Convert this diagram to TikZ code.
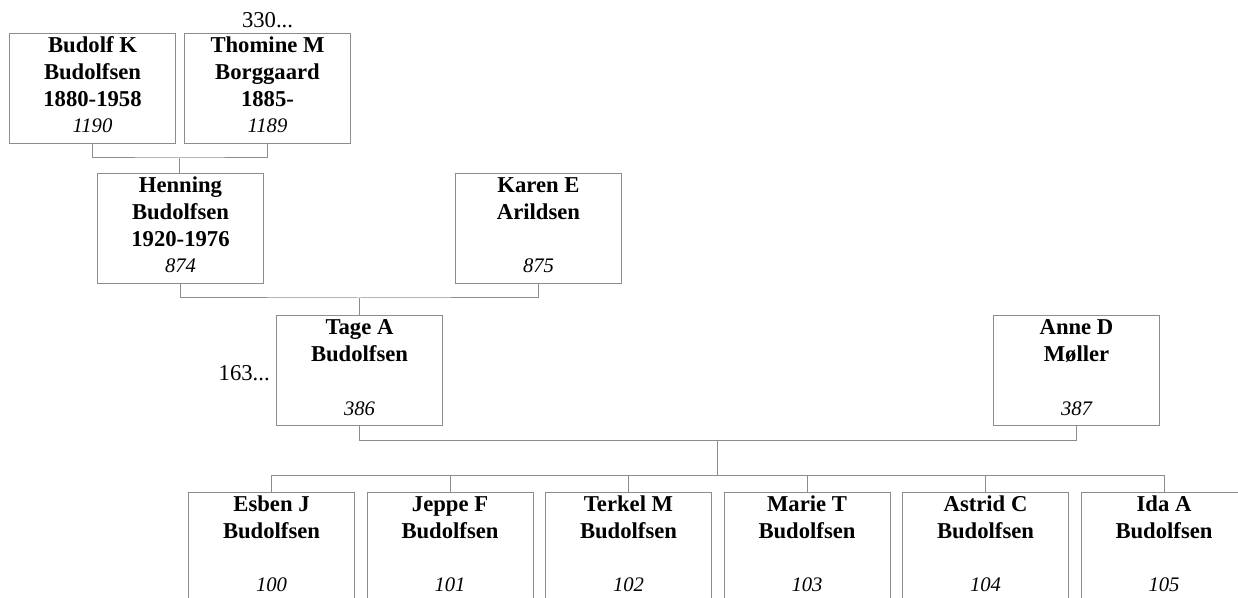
\documentclass[tikz,border=0pt]{standalone}
\usepackage{fontspec}
\setmainfont{Liberation Serif}
\begin{document}
\begin{tikzpicture}[x=0.75pt,y=-0.75pt,
  pbox/.style={draw=black!45,line width=0.75pt,rectangle,inner sep=0pt,minimum width=124.5pt,minimum height=82.5pt,anchor=north west},
  nm/.style={anchor=base,inner sep=0pt,font=\bfseries\fontsize{17}{20}\selectfont},
  num/.style={anchor=base,inner sep=0pt,font=\itshape\fontsize{15.5}{18}\selectfont},
  plain/.style={inner sep=0pt,font=\fontsize{17}{20}\selectfont},
  conn/.style={draw=black!45,line width=0.75pt}]
\useasboundingbox (0,0) rectangle (1238,598);
% generation 1
\node[pbox] (b1) at (9,33) {};
\node[nm] at ([yshift=-15pt]b1.north) {Budolf K};
\node[nm] at ([yshift=-35pt]b1.north) {Budolfsen};
\node[nm] at ([yshift=-55pt]b1.north) {1880-1958};
\node[num] at ([yshift=-75pt]b1.north) {1190};
\node[pbox] (b2) at (184,33) {};
\node[nm] at ([yshift=-15pt]b2.north) {Thomine M};
\node[nm] at ([yshift=-35pt]b2.north) {Borggaard};
\node[nm] at ([yshift=-55pt]b2.north) {1885-};
\node[num] at ([yshift=-75pt]b2.north) {1189};
\node[plain,anchor=base] (m330) at ([yshift=3.75pt]b2.north) {330...};
% generation 2
\node[pbox] (h) at (97,173) {};
\node[nm] at ([yshift=-15pt]h.north) {Henning};
\node[nm] at ([yshift=-35pt]h.north) {Budolfsen};
\node[nm] at ([yshift=-55pt]h.north) {1920-1976};
\node[num] at ([yshift=-75pt]h.north) {874};
\node[pbox] (k) at (455,173) {};
\node[nm] at ([yshift=-15pt]k.north) {Karen E};
\node[nm] at ([yshift=-35pt]k.north) {Arildsen};
\node[num] at ([yshift=-75pt]k.north) {875};
% generation 3
\node[pbox] (t) at (276,315) {};
\node[nm] at ([yshift=-15pt]t.north) {Tage A};
\node[nm] at ([yshift=-35pt]t.north) {Budolfsen};
\node[num] at ([yshift=-75pt]t.north) {386};
\node[plain,anchor=base east] (m163) at (270,380) {163...};
\node[pbox] (a) at (993,315) {};
\node[nm] at ([yshift=-15pt]a.north) {Anne D};
\node[nm] at ([yshift=-35pt]a.north) {Møller};
\node[num] at ([yshift=-75pt]a.north) {387};
% children
\foreach \i/\x/\f/\n in {1/188/Esben J/100,2/366.5/Jeppe F/101,3/545/Terkel M/102,4/723.5/Marie T/103,5/902/Astrid C/104,6/1080.5/Ida A/105}{
  \node[pbox] (c\i) at (\x,491.5) {};
  \node[nm] at ([yshift=-15pt]c\i.north) {\f};
  \node[nm] at ([yshift=-35pt]c\i.north) {Budolfsen};
  \node[num] at ([yshift=-75pt]c\i.north) {\n};
}
% connectors
\coordinate (j1) at (179,158);
\draw[conn] (b1.south) |- (j1) -| (b2.south);
\draw[conn] (j1) -- (j1 |- h.north);
\coordinate (j2) at (359,298);
\draw[conn] (h.south) |- (j2) -| (k.south);
\draw[conn] (j2) -- (j2 |- t.north);
\coordinate (j3) at (717,440.5);
\draw[conn] (t.south) |- (j3) -| (a.south);
\coordinate (j4) at (717,475.5);
\draw[conn] (j3) -- (j4);
\draw[conn] (c1.north) |- (j4) -| (c6.north);
\foreach \i in {2,3,4,5}{\draw[conn] (c\i.north) -- (c\i.north |- j4);}
\end{tikzpicture}
\end{document}
